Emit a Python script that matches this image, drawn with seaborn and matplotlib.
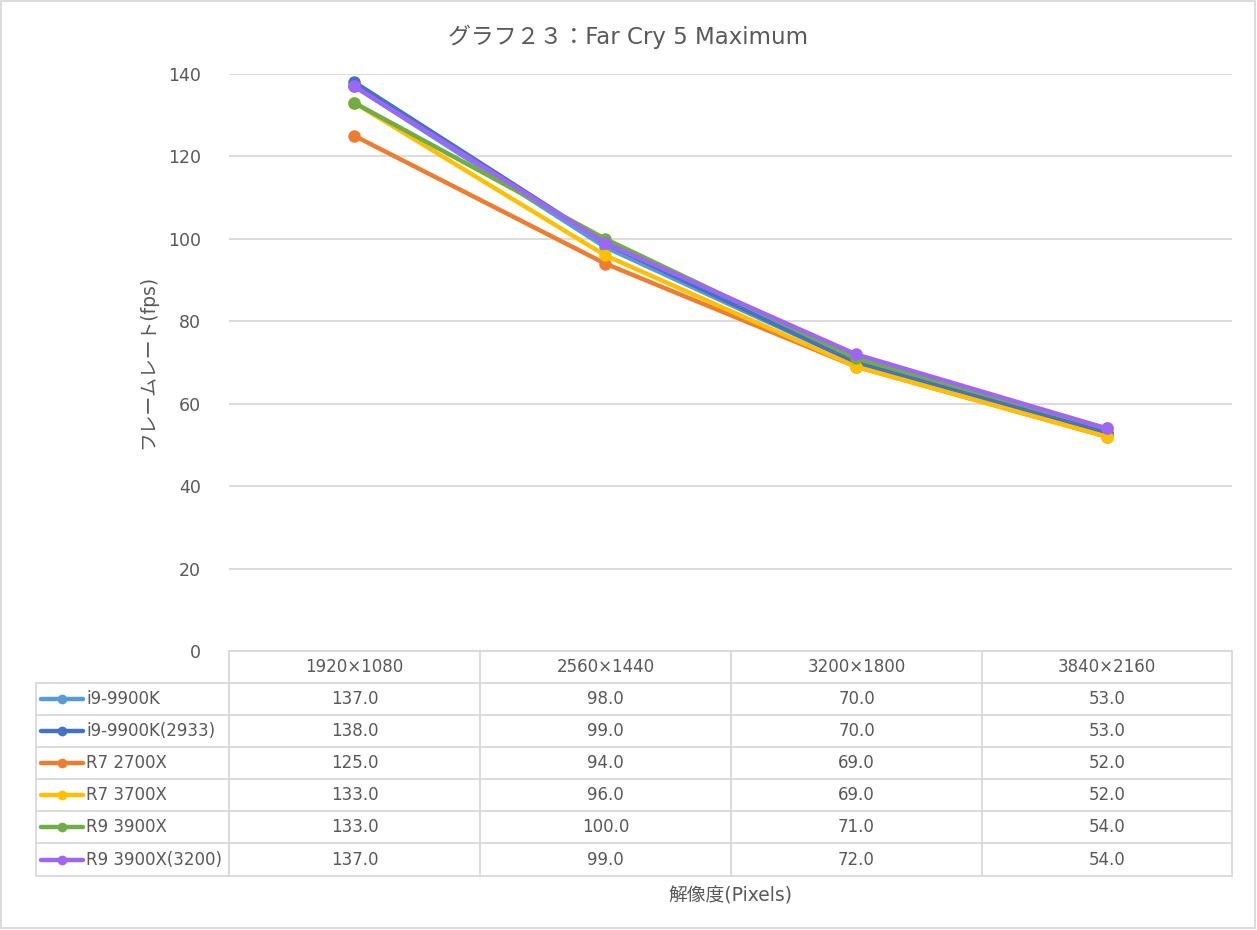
import matplotlib
matplotlib.use("Agg")
import matplotlib.pyplot as plt
import seaborn as sns
import pandas as pd
from matplotlib.lines import Line2D

categories = ["1920×1080", "2560×1440", "3200×1800", "3840×2160"]
series_names = ["i9-9900K", "i9-9900K(2933)", "R7 2700X", "R7 3700X", "R9 3900X", "R9 3900X(3200)"]
i9_9900k = [137.0, 98.0, 70.0, 53.0]
i9_9900k_2933 = [138.0, 99.0, 70.0, 53.0]
r7_2700x = [125.0, 94.0, 69.0, 52.0]
r7_3700x = [133.0, 96.0, 69.0, 52.0]
r9_3900x = [133.0, 100.0, 71.0, 54.0]
r9_3900x_3200 = [137.0, 99.0, 72.0, 54.0]
all_values = [i9_9900k, i9_9900k_2933, r7_2700x, r7_3700x, r9_3900x, r9_3900x_3200]
colors = ["#5B9BD5", "#4472C4", "#ED7D31", "#FFC000", "#70AD47", "#9E66F7"]
y_ticks = [0, 20, 40, 60, 80, 100, 120, 140]

title = "グラフ２３：Far Cry 5 Maximum"
ylabel = "フレームレート(fps)"
xlabel = "解像度(Pixels)"

rows = []
for name, vals in zip(series_names, all_values):
    for i, v in enumerate(vals):
        rows.append({"series": name, "x": i, "fps": v})
df = pd.DataFrame(rows)

sns.set_theme(style="white")
plt.rcParams['font.family'] = ['DejaVu Sans', 'Noto Sans CJK JP']

W, H = 1257, 930
fig = plt.figure(figsize=(W / 100, H / 100), dpi=100)

def fx(px):
    return px / W

def fy(py):
    return 1 - py / H

ax_left, ax_right, ax_top, ax_bottom = 229, 1232, 74, 651
ax = fig.add_axes([fx(ax_left), fy(ax_bottom), fx(ax_right) - fx(ax_left), fy(ax_top) - fy(ax_bottom)])

sns.lineplot(data=df, x="x", y="fps", hue="series", hue_order=series_names,
             palette=colors, marker="o", markersize=9, markeredgewidth=0,
             linewidth=3.2, ax=ax, legend=False)

ax.set_xlim(-0.5, 3.5)
ax.set_ylim(0, 140)
ax.set_yticks(y_ticks)
ax.set_yticklabels([str(t) for t in y_ticks], color="#595959", fontsize=12.5)
ax.set_xticks([])
ax.set_xlabel("")
ax.set_ylabel("")
ax.tick_params(axis="y", length=0, pad=20)
for s in ["top", "right", "left", "bottom"]:
    ax.spines[s].set_visible(False)
ax.grid(axis="y", color="#D9D9D9", linewidth=1.3)
ax.set_axisbelow(True)

fig.text(fx(628), fy(37), title, ha="center", va="center", fontsize=16.5, color="#595959")
fig.text(fx(148), fy(362), ylabel, ha="center", va="center", rotation=90, fontsize=13.5, color="#595959")
fig.text(fx(730), fy(896), xlabel, ha="center", va="center", fontsize=13.5, color="#595959")

grid_c = "#D9D9D9"
def hline(x0, x1, y):
    fig.add_artist(Line2D([fx(x0), fx(x1)], [fy(y), fy(y)], color=grid_c, linewidth=1.3))

def vline(x, y0, y1):
    fig.add_artist(Line2D([fx(x), fx(x)], [fy(y0), fy(y1)], color=grid_c, linewidth=1.3))

col_edges = [229, 480, 731, 982, 1232]
row_edges = [651, 683, 715, 747, 779, 811, 843, 876]
legend_left = 36

hline(229, 1232, row_edges[0])
for ry in row_edges[1:]:
    hline(legend_left, 1232, ry)
for cx in col_edges:
    vline(cx, row_edges[0], row_edges[-1])
vline(legend_left, row_edges[1], row_edges[-1])

for j, cat in enumerate(categories):
    cxm = (col_edges[j] + col_edges[j + 1]) / 2
    fig.text(fx(cxm), fy((row_edges[0] + row_edges[1]) / 2), cat, ha="center", va="center",
             fontsize=12, color="#595959")

for i, (name, vals, c) in enumerate(zip(series_names, all_values, colors)):
    ym = (row_edges[i + 1] + row_edges[i + 2]) / 2
    fig.add_artist(Line2D([fx(41), fx(83)], [fy(ym), fy(ym)], color=c, linewidth=3.2))
    fig.add_artist(Line2D([fx(62)], [fy(ym)], color=c, marker="o", markersize=7, markeredgewidth=0))
    fig.text(fx(86), fy(ym), name, ha="left", va="center", fontsize=12, color="#595959")
    for j, v in enumerate(vals):
        cxm = (col_edges[j] + col_edges[j + 1]) / 2
        fig.text(fx(cxm), fy(ym), f"{v:.1f}", ha="center", va="center", fontsize=12, color="#595959")

fig.add_artist(plt.Rectangle((fx(1), fy(928)), fx(1254), 1 - 3 / H, fill=False,
                             edgecolor="#D9D9D9", linewidth=1.3, transform=fig.transFigure))

fig.savefig("out.png", dpi=100, facecolor="white")
